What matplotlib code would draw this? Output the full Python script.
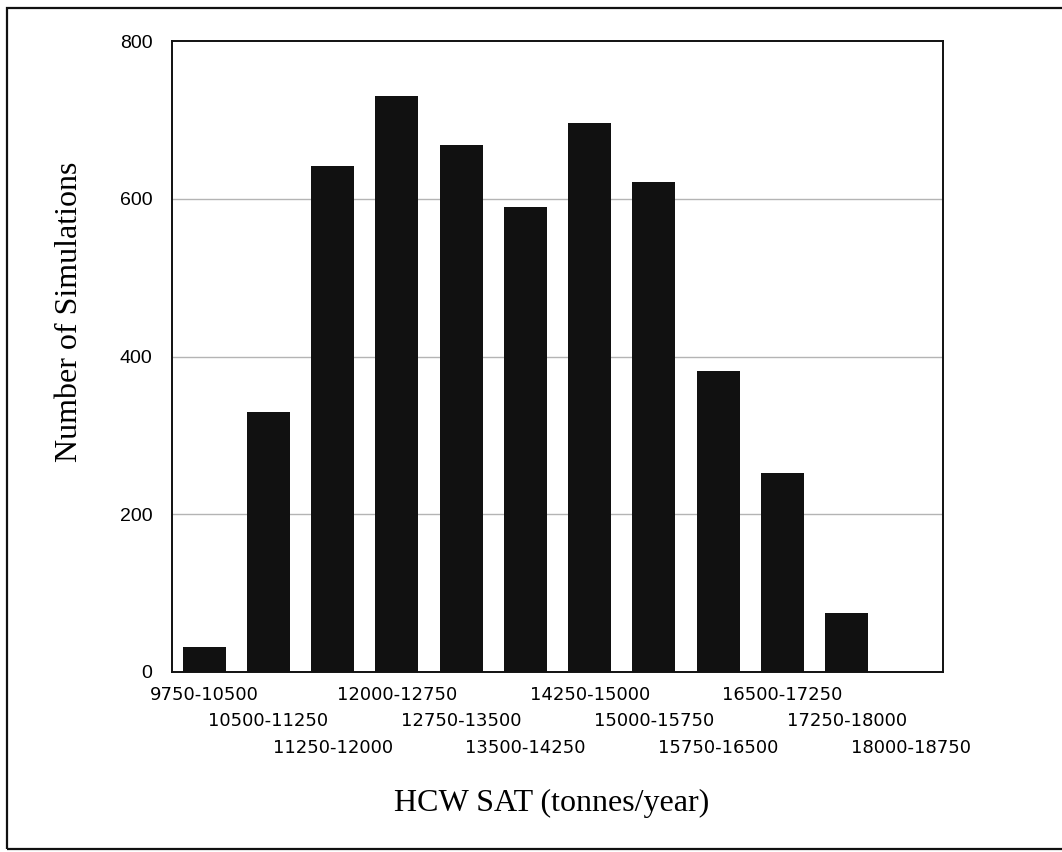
import matplotlib
matplotlib.use("Agg")
import matplotlib.pyplot as plt
from matplotlib.patches import Rectangle

# HCW SAT ranges (tonnes/year) and simulation counts
bins = ['9750-10500', '10500-11250', '11250-12000', '12000-12750',
        '12750-13500', '13500-14250', '14250-15000', '15000-15750',
        '15750-16500', '16500-17250', '17250-18000', '18000-18750']
counts = [32, 330, 641, 730, 668, 589, 696, 621, 381, 252, 75, 0]
yticks = [0, 200, 400, 600, 800]

W, H = 1062, 852
fig = plt.figure(figsize=(W / 100, H / 100), dpi=100)
ax = fig.add_axes([172 / W, 1 - 672 / H, (943 - 172) / W, (672 - 41) / H])

x = list(range(len(bins)))
ax.bar(x, counts, width=0.67, color='#111111', zorder=3)
ax.set_xlim(-0.5, len(bins) - 0.5)
ax.set_ylim(0, 800)

# grid only on the inner levels
for v in yticks[1:-1]:
    ax.axhline(v, color='#b4b4b4', lw=1.0, zorder=1)

ax.set_yticks(yticks)
ax.set_yticklabels([str(v) for v in yticks], fontsize=14, family='Liberation Sans')
ax.tick_params(axis='y', length=0, pad=14)

ax.set_xticks(x)
ax.set_xticklabels(bins, fontsize=13, family='DejaVu Sans')
ax.tick_params(axis='x', length=0)
# staggered labels in three rows
pads = [10, 29, 48]
for i, t in enumerate(ax.xaxis.get_major_ticks()):
    t.set_pad(pads[i % 3])

for s in ax.spines.values():
    s.set_linewidth(1.4)
    s.set_color('#111111')

fig.text(70 / W, 1 - 312 / H, 'Number of Simulations', rotation=90,
         ha='center', va='center', fontsize=23, family='Liberation Serif')
fig.text(552 / W, 1 - 803 / H, 'HCW SAT (tonnes/year)',
         ha='center', va='center', fontsize=23, family='Liberation Serif')

# scanned page frame
fig.patches.append(Rectangle((6.5 / W, 3 / H), 1.2, 1 - 11 / H,
                             transform=fig.transFigure, fill=False,
                             edgecolor='#111111', lw=1.6, clip_on=False))

fig.savefig('out.png', dpi=100)
